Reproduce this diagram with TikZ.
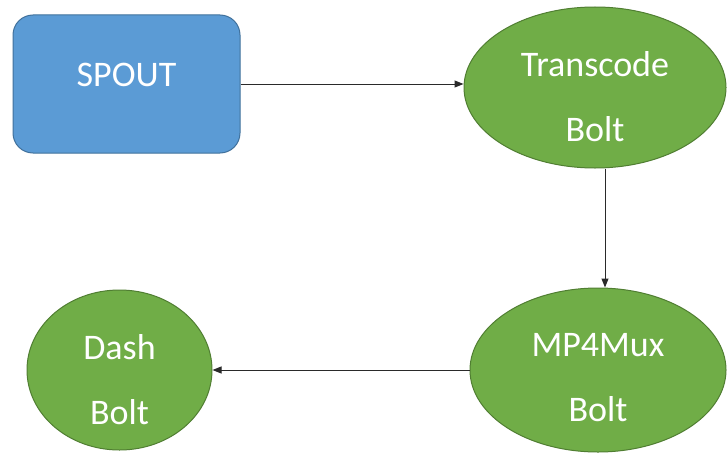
\documentclass[tikz,border=0pt]{standalone}
\usepackage{fontspec}
\setmainfont{Carlito}
\usetikzlibrary{shapes.geometric,arrows.meta}
\definecolor{spoutfill}{HTML}{5B9BD5}
\definecolor{spoutline}{HTML}{41719C}
\definecolor{boltfill}{HTML}{70AD47}
\definecolor{boltline}{HTML}{507E32}
\definecolor{wire}{HTML}{2A2A2A}
\tikzset{
  spoutbox/.style={draw=spoutline, fill=spoutfill, line width=1pt,
    rounded corners=20pt, minimum width=227pt, minimum height=138pt, inner sep=0pt},
  boltshape/.style={ellipse, draw=boltline, fill=boltfill, line width=1pt, inner sep=0pt},
  boltlabel/.style={text=white, align=center, inner sep=0pt,
    font=\fontsize{36}{65}\selectfont},
  flow/.style={draw=wire, line width=1pt, -{Triangle[length=9pt,width=7pt]}}
}
\begin{document}
\begin{tikzpicture}[x=1pt,y=-1pt]
  \useasboundingbox[fill=white] (0,0) rectangle (727,452);

  % source spout
  \node[spoutbox] (spout) at (126.5,84) {};
  \node[boltlabel] (spouttxt) at (126.5,75) {SPOUT};

  % bolts
  \node[boltshape, minimum width=262pt, minimum height=161pt] (trans) at (595,87.5) {};
  \node[boltlabel] (transtxt) at (595,97) {Transcode\\Bolt};

  \node[boltshape, minimum width=256pt, minimum height=164pt] (mp4) at (598,370) {};
  \node[boltlabel] (mp4txt) at (598,378) {MP4Mux\\Bolt};

  \node[boltshape, minimum width=185pt, minimum height=160pt] (dash) at (119.5,370) {};
  \node[boltlabel] (dashtxt) at (119.5,380) {Dash\\Bolt};

  % stream connections
  \draw[flow] (spout.east) -- (spout.east -| trans.west);
  \draw[flow] ([xshift=10pt]trans.south) -- ([xshift=10pt]trans.south |- mp4.north);
  \draw[flow] (mp4.west) -- (dash.east);
\end{tikzpicture}
\end{document}
